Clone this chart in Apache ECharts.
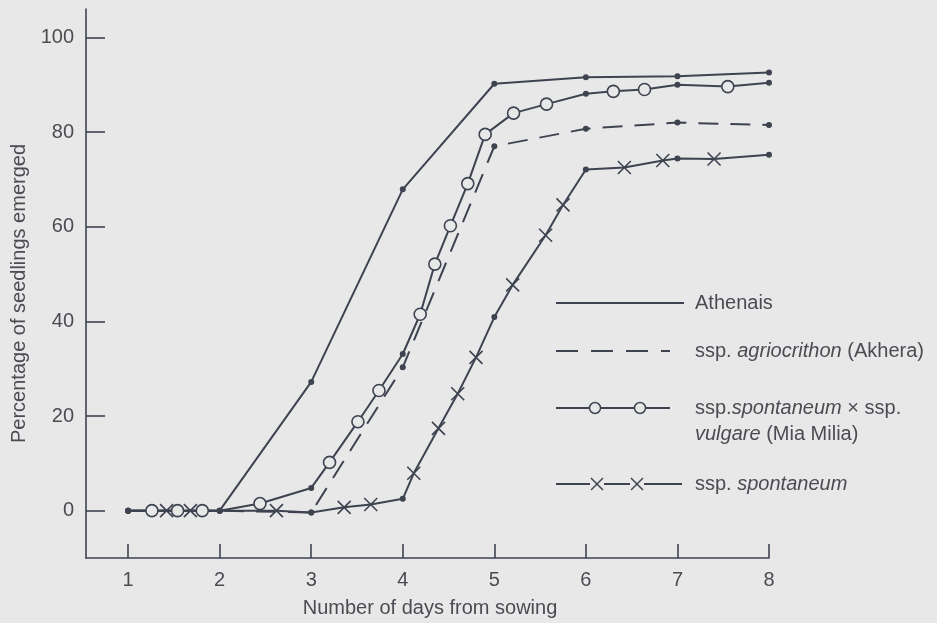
<!DOCTYPE html>
<html>
<head>
<meta charset="utf-8">
<script src="https://cdn.jsdelivr.net/npm/echarts@6.0.0/dist/echarts.min.js"></script>
<style>
  html, body { margin: 0; padding: 0; background: #e8e8e9; }
  #chart { width: 937px; height: 623px; }
</style>
</head>
<body>
<div id="chart"></div>
<script>
// values (days after sowing, % emerged)
const athenaisDays = [1, 2, 3, 4, 5, 6, 7, 8];
const athenaisPct  = [0, 0, 27.2, 67.9, 90.2, 91.6, 91.8, 92.6];

const akheraDays = [1, 2, 3, 4, 5, 6, 7, 8];
const akheraPct  = [0, 0, -0.4, 30.3, 77, 80.7, 82, 81.5];

const miaMiliaDays = [1, 1.26, 1.54, 1.81, 2, 2.44, 3, 3.2, 3.51, 3.74, 4, 4.19, 4.35, 4.52, 4.71, 4.9, 5.21, 5.57, 6, 6.3, 6.64, 7, 7.55, 8];
const miaMiliaPct  = [0, 0, 0, 0, 0, 1.5, 4.8, 10.2, 18.8, 25.4, 33.1, 41.5, 52.1, 60.2, 69.1, 79.5, 84, 85.9, 88.1, 88.6, 89, 90, 89.6, 90.4];

const spontDays = [1, 1.42, 1.68, 2, 2.62, 3, 3.36, 3.65, 4, 4.12, 4.39, 4.6, 4.8, 5, 5.2, 5.56, 5.75, 6, 6.42, 6.84, 7, 7.4, 8];
const spontPct  = [0, 0, 0, 0, 0, -0.4, 0.7, 1.3, 2.5, 7.9, 17.4, 24.7, 32.4, 40.9, 47.7, 58.2, 64.6, 72.1, 72.5, 74, 74.4, 74.3, 75.2];

const xTicks = [1, 2, 3, 4, 5, 6, 7, 8];
const yTicks = [0, 20, 40, 60, 80, 100];

const INK = "#3e4350";
const TEXT = "#4b4c52";
const BG = "#e8e8e9";
const FONT = "'Liberation Sans', Arial, Helvetica, sans-serif";
const CROSS = "path://M0 0L10 10M10 0L0 10";

// daily counts are plotted as small dots, in-between counts with the series marker
function points(days, pct, marker) {
  return days.map(function (d, i) {
    if (Number.isInteger(d) || !marker) {
      return { value: [d, pct[i]], symbol: "circle", symbolSize: 6,
               itemStyle: { color: INK, borderWidth: 0 } };
    }
    if (marker === "circle") {
      return { value: [d, pct[i]], symbol: "circle", symbolSize: 12,
               itemStyle: { color: BG, borderColor: INK, borderWidth: 1.6 } };
    }
    return { value: [d, pct[i]], symbol: CROSS, symbolSize: 13,
             itemStyle: { color: "none", borderColor: INK, borderWidth: 1.6 } };
  });
}

function lineSeries(name, days, pct, marker, dash) {
  return {
    name: name,
    type: "line",
    data: points(days, pct, marker),
    showAllSymbol: true,
    lineStyle: { color: INK, width: 2, type: dash || "solid" },
    emphasis: { disabled: true },
    z: marker === "circle" ? 3 : 2
  };
}

// legend drawn as graphics so the keys look like the printed ones
const legendX = 556, legendTextX = 695;
function legendKey(y, len, dash, marker, at) {
  const els = [{
    type: "line",
    shape: { x1: legendX, y1: y, x2: legendX + len, y2: y },
    style: { stroke: INK, lineWidth: 2, lineDash: dash || null }
  }];
  (at || []).forEach(function (x) {
    if (marker === "circle") {
      els.push({ type: "circle", shape: { cx: x, cy: y, r: 5.5 },
                 style: { fill: BG, stroke: INK, lineWidth: 1.5 } });
    } else {
      els.push({ type: "rect", shape: { x: x - 7, y: y - 7, width: 14, height: 14 },
                 style: { fill: BG } });
      els.push({ type: "polyline", shape: { points: [[x - 6, y - 6], [x + 6, y + 6]] },
                 style: { stroke: INK, lineWidth: 1.5 } });
      els.push({ type: "polyline", shape: { points: [[x + 6, y - 6], [x - 6, y + 6]] },
                 style: { stroke: INK, lineWidth: 1.5 } });
    }
  });
  return els;
}
function legendText(y, text) {
  return {
    type: "text", x: legendTextX, y: y,
    style: {
      text: text, fill: TEXT, font: "20px " + FONT, verticalAlign: "middle",
      rich: {
        n: { fontSize: 20, fontFamily: FONT, fill: TEXT },
        i: { fontSize: 20, fontFamily: FONT, fill: TEXT, fontStyle: "italic" }
      }
    }
  };
}

const graphics = [].concat(
  legendKey(303, 128),
  [legendText(303, "{n|Athenais}")],
  legendKey(351, 114, [22, 13]),
  [legendText(351, "{n|ssp. }{i|agriocrithon}{n| (Akhera)}")],
  legendKey(408, 114, null, "circle", [595, 640]),
  [legendText(408, "{n|ssp.}{i|spontaneum}{n| × ssp.}")],
  [legendText(434, "{i|vulgare}{n| (Mia Milia)}")],
  legendKey(484, 126, null, "cross", [597, 637]),
  [legendText(484, "{n|ssp. }{i|spontaneum}")]
);

const chart = echarts.init(document.getElementById("chart"), null, { renderer: "canvas" });

const option = {
  backgroundColor: BG,
  animation: false,
  textStyle: { fontFamily: FONT, color: TEXT },
  grid: { left: 86, right: 168, top: 9, bottom: 64, containLabel: false },
  xAxis: {
    type: "value",
    min: 0.54,
    max: 8,
    name: "Number of days from sowing",
    nameLocation: "middle",
    nameGap: 40,
    nameTextStyle: { fontSize: 20, color: TEXT, fontFamily: FONT, padding: [0, 0, 0, 5] },
    axisLine: { onZero: false, lineStyle: { color: INK, width: 1.6 } },
    axisTick: { inside: true, length: 14, customValues: xTicks, lineStyle: { color: INK, width: 1.6 } },
    axisLabel: { customValues: xTicks, fontSize: 20, color: TEXT, margin: 12, fontFamily: FONT },
    splitLine: { show: false }
  },
  yAxis: {
    type: "value",
    min: -10,
    max: 106,
    name: "Percentage of seedlings emerged",
    nameLocation: "middle",
    nameRotate: 90,
    nameGap: 52,
    nameTextStyle: { fontSize: 20, color: TEXT, fontFamily: FONT, padding: [0, 20, 0, 0] },
    axisLine: { show: true, onZero: false, lineStyle: { color: INK, width: 1.6 } },
    axisTick: { show: true, inside: true, length: 19, customValues: yTicks, lineStyle: { color: INK, width: 1.6 } },
    axisLabel: { customValues: yTicks, fontSize: 20, color: TEXT, margin: 12, fontFamily: FONT },
    splitLine: { show: false }
  },
  series: [
    lineSeries("Athenais", athenaisDays, athenaisPct, null),
    lineSeries("ssp. agriocrithon (Akhera)", akheraDays, akheraPct, null, [20, 12]),
    lineSeries("ssp. spontaneum × ssp. vulgare (Mia Milia)", miaMiliaDays, miaMiliaPct, "circle"),
    lineSeries("ssp. spontaneum", spontDays, spontPct, "cross")
  ],
  graphic: graphics
};

chart.setOption(option);
</script>
</body>
</html>
